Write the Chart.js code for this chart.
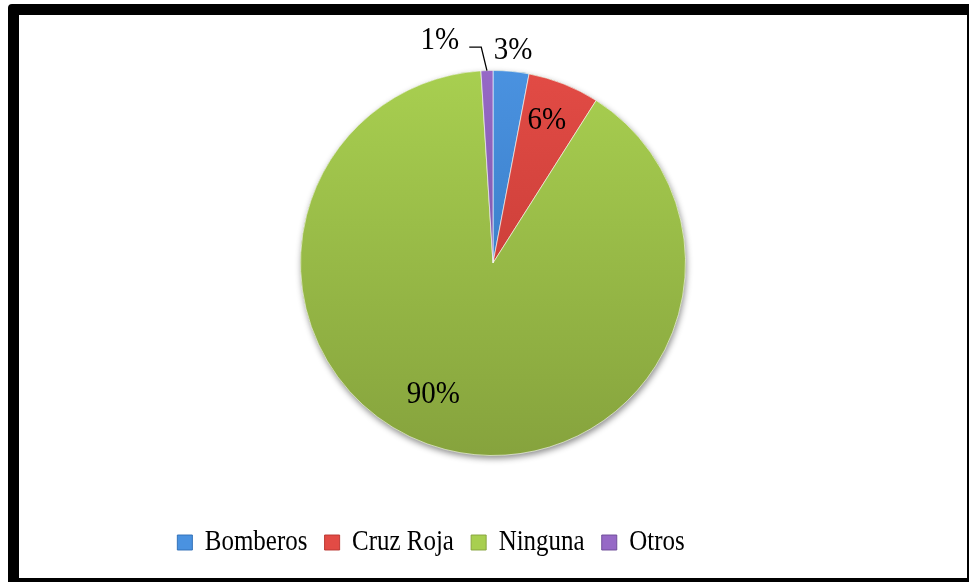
<!DOCTYPE html>
<html>
<head>
<meta charset="utf-8">
<script src="https://cdn.jsdelivr.net/npm/chart.js@4/dist/chart.umd.min.js"></script>
<style>
  html, body { margin: 0; padding: 0; background: #ffffff; }
  #marco {
    position: absolute;
    left: 8px; top: 4px;
    width: 948px; height: 563px;
    border-left: 11px solid #000;
    border-top: 11px solid #000;
    border-right: 2px solid #000;
    border-bottom: 4px solid #000;
    border-top-left-radius: 4px;
    background: #fff;
  }
</style>
</head>
<body>
<div id="marco"><canvas id="myChart"></canvas></div>
<script>
// Datos
const categorias = ["Bomberos", "Cruz Roja", "Ninguna", "Otros"];
const porcentajes = [3, 6, 90, 1];
const etiquetas = ["3%", "6%", "90%", "1%"];

// colores arriba / abajo de cada porcion
const coloresArriba = ["#4a92e0", "#e24b45", "#a8cf50", "#9669c6"];
const coloresAbajo = ["#2f6fb6", "#b9352f", "#86a33d", "#6c4a97"];

const fuente = "'Liberation Serif', 'Times New Roman', serif";

function getGradiente(ctx, chartArea, i) {
    const g = ctx.createLinearGradient(0, chartArea.top, 0, chartArea.bottom);
    g.addColorStop(0, coloresArriba[i]);
    g.addColorStop(1, coloresAbajo[i]);
    return g;
}

// donde va cada etiqueta: giro (grados) y radio relativo
const posEtiquetas = [
    { giro: 0, radio: 1.11, linea: false },
    { giro: -0.9, radio: 0.79, linea: false },
    { giro: 10, radio: 0.75, linea: false },
    { giro: -11.6, radio: 1.19, linea: true }
];

// sombra debajo del pastel
const sombraPlugin = {
    id: "sombra",
    beforeDatasetsDraw(chart) {
        const arc = chart.getDatasetMeta(0).data[0];
        if (!arc) return;
        const ctx = chart.ctx;
        ctx.save();
        ctx.shadowColor = "rgba(0,0,0,0.45)";
        ctx.shadowBlur = 6;
        ctx.shadowOffsetX = 1;
        ctx.shadowOffsetY = 3;
        ctx.fillStyle = "#8aa83f";
        ctx.beginPath();
        ctx.arc(arc.x, arc.y, arc.outerRadius, 0, Math.PI * 2);
        ctx.fill();
        ctx.restore();
    }
};

// textos de porcentaje
const etiquetasPlugin = {
    id: "etiquetas",
    afterDatasetsDraw(chart) {
        const ctx = chart.ctx;
        const arcs = chart.getDatasetMeta(0).data;
        ctx.save();
        ctx.fillStyle = "#000";
        ctx.strokeStyle = "#000";
        ctx.lineWidth = 1.3;
        ctx.font = "29px " + fuente;
        ctx.textAlign = "center";
        ctx.textBaseline = "middle";
        arcs.forEach(function(arc, i) {
            const p = posEtiquetas[i];
            const medio = (arc.startAngle + arc.endAngle) / 2;
            const a = medio + p.giro * Math.PI / 180;
            const x = arc.x + Math.cos(a) * arc.outerRadius * p.radio;
            const y = arc.y + Math.sin(a) * arc.outerRadius * p.radio;
            ctx.save();
            ctx.translate(x, y);
            ctx.scale(1, 1.12);
            ctx.fillText(etiquetas[i], 0, 0);
            ctx.restore();
            if (p.linea) {
                const w = ctx.measureText(etiquetas[i]).width;
                const x0 = x + w / 2 + 10;
                const y0 = y + 7;
                const ex = arc.x + Math.cos(medio) * arc.outerRadius;
                const ey = arc.y + Math.sin(medio) * arc.outerRadius;
                ctx.beginPath();
                ctx.moveTo(x0, y0);
                ctx.lineTo(x0 + 12, y0);
                ctx.lineTo(ex, ey);
                ctx.stroke();
            }
        });
        ctx.restore();
    }
};

// leyenda: mas abajo, a la izquierda y con letra angosta
const leyendaPlugin = {
    id: "moverLeyenda",
    afterLayout(chart) {
        const lg = chart.legend;
        const dx = -62, dy = 52;
        lg.left += dx; lg.right += dx;
        lg.top += dy; lg.bottom += dy;
        if (!lg._angosta) {
            const dibujar = lg.draw.bind(lg);
            lg.draw = function(area) {
                const ctx = chart.ctx;
                const ox = (lg.left + lg.right) / 2;
                ctx.save();
                ctx.translate(ox, 0);
                ctx.scale(0.86, 1);
                ctx.translate(-ox, 0);
                dibujar(area);
                ctx.restore();
            };
            lg._angosta = true;
        }
    }
};

const data = {
    labels: categorias,
    datasets: [{
        data: porcentajes,
        backgroundColor: function(context) {
            const chart = context.chart;
            const {ctx, chartArea} = chart;
            if (!chartArea) {
                return coloresArriba[context.dataIndex];
            }
            return getGradiente(ctx, chartArea, context.dataIndex);
        },
        borderColor: "rgba(255,255,255,0.6)",
        borderWidth: 1
    }]
};

const config = {
    type: "pie",
    data: data,
    options: {
        responsive: true,
        maintainAspectRatio: false,
        animation: false,
        layout: {
            padding: { top: 55, bottom: 63, left: 0, right: 0 }
        },
        plugins: {
            legend: {
                position: "bottom",
                labels: {
                    color: "#000",
                    font: { family: fuente, size: 29 },
                    boxWidth: 17.5,
                    boxHeight: 15,
                    padding: 20,
                    generateLabels: function(chart) {
                        return categorias.map(function(c, i) {
                            return {
                                text: c,
                                fillStyle: coloresArriba[i],
                                strokeStyle: coloresAbajo[i],
                                lineWidth: 1,
                                index: i
                            };
                        });
                    }
                }
            },
            tooltip: { enabled: false }
        },
        hover: { mode: null }
    },
    plugins: [sombraPlugin, etiquetasPlugin, leyendaPlugin]
};

const myChart = new Chart(document.getElementById("myChart"), config);
</script>
</body>
</html>
